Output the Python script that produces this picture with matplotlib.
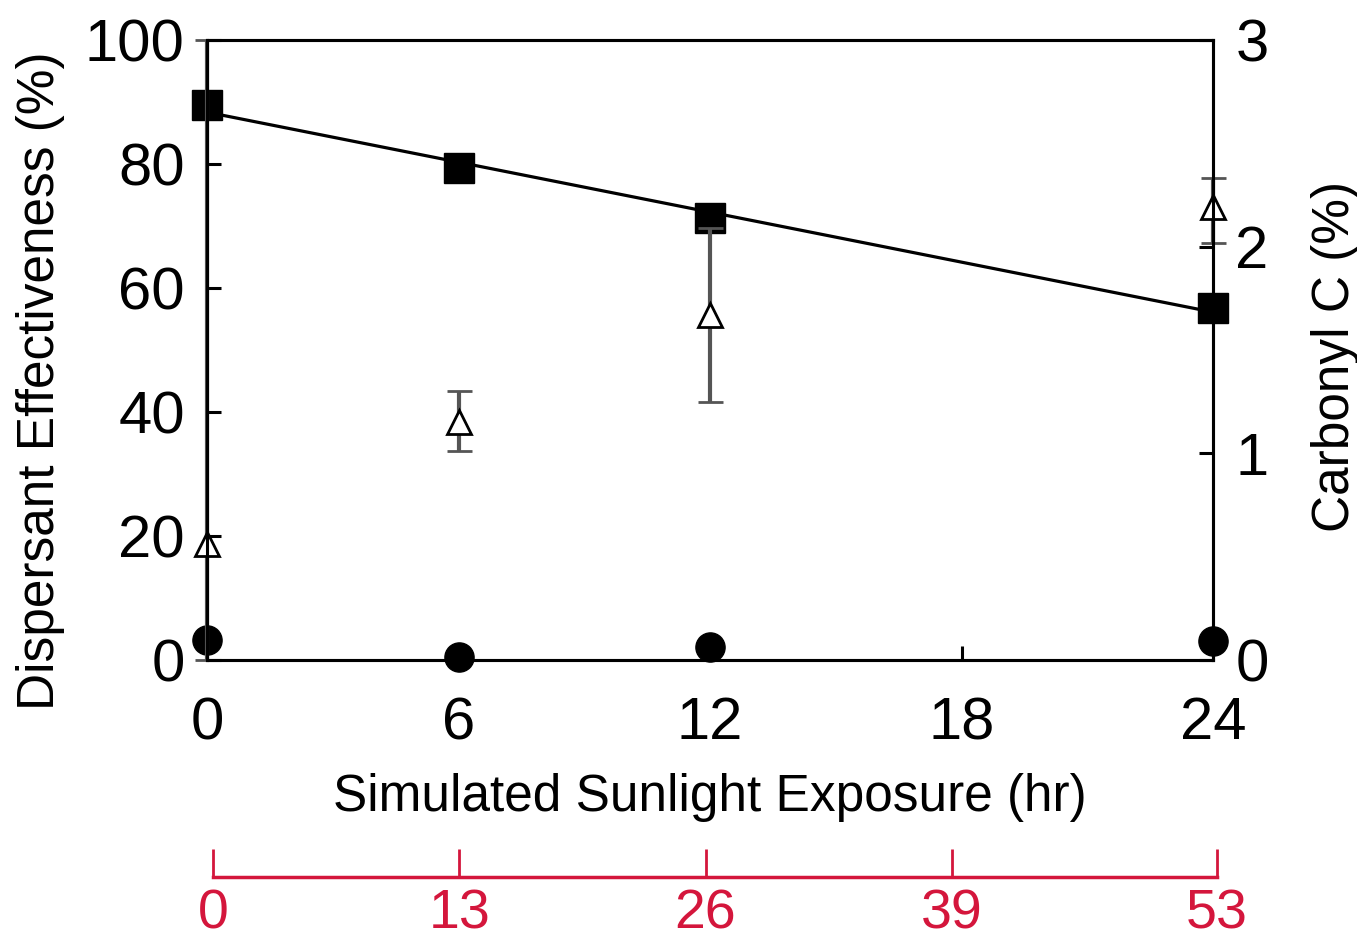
import numpy as np
import matplotlib
matplotlib.use("Agg")
import matplotlib.pyplot as plt

plt.rcParams['font.family'] = ['Liberation Sans', 'DejaVu Sans']

# data
hours = [0, 6, 12, 24]
effect_sq = [89.5, 79.4, 71.3, 56.8]      # dispersant effectiveness (%), squares
effect_ci = [3.2, 0.5, 2.1, 3.1]          # circles, left axis
carbonyl = [0.56, 1.15, 1.67, 2.19]       # carbonyl C (%), triangles, right axis
carb_lo = [0.56, 0.14, 0.42, 0.17]
carb_hi = [2.44, 0.15, 0.42, 0.14]
sun_ticks = [0, 13, 26, 39, 53]

fig = plt.figure(figsize=(13.57, 9.47), dpi=100)
ax = fig.add_axes([207/1357, 1-660/947, (1213-207)/1357, (660-40)/947])
ax2 = ax.twinx()

# fit line through squares
p = np.polyfit(hours, effect_sq, 1)
xx = np.array([0, 24])
ax.plot(xx, np.polyval(p, xx), color='black', lw=2.3, zorder=3)
ax.plot(hours, effect_sq, 's', color='black', ms=21, zorder=4, clip_on=False)
ax.plot(hours, effect_ci, 'o', color='black', ms=21, zorder=4, clip_on=False)

eb = ax2.errorbar(hours, carbonyl, yerr=[carb_lo, carb_hi], fmt='^', mfc='white',
                  mec='black', mew=2, ms=17, ecolor='#555555', elinewidth=3,
                  capsize=9, capthick=3, zorder=2)
for art in eb.lines[0:1] + tuple(eb.lines[1]) + tuple(eb.lines[2]):
    art.set_clip_on(False)

ax.set_xlim(0, 24)
ax.set_ylim(0, 100)
ax2.set_ylim(0, 3)
ax.set_xticks([0, 6, 12, 18, 24])
ax.set_yticks([0, 20, 40, 60, 80, 100])
ax2.set_yticks([0, 1, 2, 3])

for a in (ax, ax2):
    for s in a.spines.values():
        s.set_linewidth(2.2)
ax.tick_params(direction='in', length=10, width=2.2, labelsize=43, pad=16)
ax2.tick_params(direction='in', length=10, width=2.2, labelsize=43, pad=16)
ax.tick_params(axis='x', pad=26)

ax.set_xlabel('Simulated Sunlight Exposure (hr)', fontsize=37, labelpad=16)
ax.set_ylabel('Dispersant Effectiveness (%)', fontsize=37)
ax.yaxis.set_label_coords(-0.141, 0.45)
ax2.set_ylabel('Carbonyl C (%)', fontsize=37)
ax2.yaxis.set_label_coords(1.097, 0.49)

# second (red) time scale at the bottom
red = '#d4163c'
ax3 = fig.add_axes([213/1357, 1-877/947, (1217-213)/1357, 0.0001])
ax3.set_xlim(0, 53)
ax3.set_xticks(sun_ticks)
ax3.set_yticks([])
for k in ('top', 'left', 'right'):
    ax3.spines[k].set_visible(False)
ax3.spines['bottom'].set_color(red)
ax3.spines['bottom'].set_linewidth(2.5)
ax3.tick_params(axis='x', direction='in', length=20, width=2, colors=red,
                labelsize=40, pad=8)
ax3.patch.set_visible(False)

fig.savefig('out.png', dpi=100)
